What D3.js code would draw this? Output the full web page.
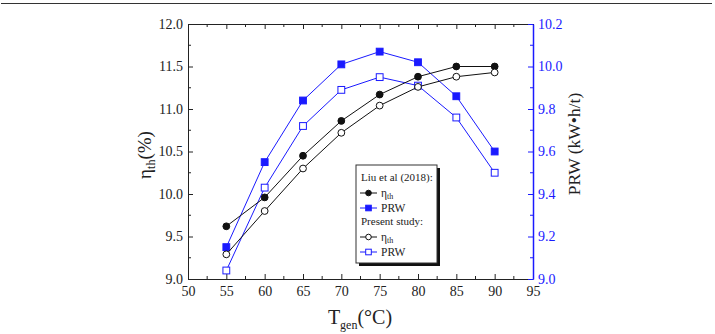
<!DOCTYPE html>
<html>
<head>
<meta charset="utf-8">
<script src="https://cdn.jsdelivr.net/npm/d3@7"></script>
<style>
  body { margin: 0; background: #fff; }
</style>
</head>
<body>
<svg id="chart" width="715" height="334" font-family="'Liberation Serif', 'DejaVu Serif', serif"></svg>
<script>
// generator temperature (degC)
var tGen = [55, 60, 65, 70, 75, 80, 85, 90];

// thermal efficiency (%) - left axis
var etaLiu = [9.62, 9.96, 10.45, 10.86, 11.17, 11.38, 11.50, 11.50];
var etaPresent = [9.29, 9.80, 10.30, 10.72, 11.04, 11.26, 11.38, 11.43];

// power required for water (kW.h/t) - right axis
var prwLiu = [9.15, 9.55, 9.84, 10.01, 10.07, 10.02, 9.86, 9.60];
var prwPresent = [9.04, 9.43, 9.72, 9.89, 9.95, 9.91, 9.76, 9.50];

var xTicks = [50, 55, 60, 65, 70, 75, 80, 85, 90, 95];
var yLeftTicks = [9.0, 9.5, 10.0, 10.5, 11.0, 11.5, 12.0];
var yRightTicks = [9.0, 9.2, 9.4, 9.6, 9.8, 10.0, 10.2];

var serif = "Liberation Serif";
var blue = "#1a1aff";
var ink = "#222";
var svg = d3.select("#chart");

// frame line at the top of the figure
svg.append("line").attr("x1", 1).attr("x2", 712).attr("y1", 3.5).attr("y2", 3.5)
    .attr("stroke", "#333").attr("stroke-width", 1.2);

var pLeft = 188, pRight = 533, pTop = 24, pBottom = 279;

var x = d3.scaleLinear().domain([50, 95]).range([pLeft, pRight]);
var yL = d3.scaleLinear().domain([9, 12]).range([pBottom, pTop]);
var yR = d3.scaleLinear().domain([9, 10.2]).range([pBottom, pTop]);

// midpoints between major ticks -> minor ticks
function minors(ticks) {
    var out = [];
    for (var i = 0; i < ticks.length - 1; i++) out.push((ticks[i] + ticks[i + 1]) / 2);
    return out;
}

function styleAxis(g, color) {
    g.attr("font-family", serif).attr("font-size", 14);
    g.selectAll("text").attr("font-family", serif).attr("font-size", 14).attr("fill", color);
    g.selectAll(".tick line").attr("stroke", color);
    g.select(".domain").attr("stroke", color);
}

// bottom axis
var gx = svg.append("g").attr("transform", "translate(0," + pBottom + ")");
gx.call(d3.axisBottom(x).tickValues(xTicks).tickFormat(d3.format("d")).tickSizeInner(-5).tickSizeOuter(0).tickPadding(7));
styleAxis(gx, ink);
gx.selectAll(".minor").data(minors(xTicks)).enter().append("line")
    .attr("x1", function(d){return x(d);}).attr("x2", function(d){return x(d);})
    .attr("y1", 0).attr("y2", -3).attr("stroke", ink);

// top axis (ticks only)
var gt = svg.append("g").attr("transform", "translate(0," + pTop + ")");
gt.call(d3.axisTop(x).tickValues(xTicks).tickFormat("").tickSizeInner(-5).tickSizeOuter(0));
styleAxis(gt, ink);
gt.selectAll(".minor").data(minors(xTicks)).enter().append("line")
    .attr("x1", function(d){return x(d);}).attr("x2", function(d){return x(d);})
    .attr("y1", 0).attr("y2", 3).attr("stroke", ink);

// left axis
var gl = svg.append("g").attr("transform", "translate(" + pLeft + ",0)");
gl.call(d3.axisLeft(yL).tickValues(yLeftTicks).tickFormat(d3.format(".1f")).tickSizeInner(-5).tickSizeOuter(0).tickPadding(5));
styleAxis(gl, ink);
gl.selectAll(".minor").data(minors(yLeftTicks)).enter().append("line")
    .attr("y1", function(d){return yL(d);}).attr("y2", function(d){return yL(d);})
    .attr("x1", 0).attr("x2", 3).attr("stroke", ink);

// right axis (blue)
var gr = svg.append("g").attr("transform", "translate(" + pRight + ",0)");
gr.call(d3.axisRight(yR).tickValues(yRightTicks).tickFormat(d3.format(".1f")).tickSizeInner(-5).tickSizeOuter(0).tickPadding(5));
styleAxis(gr, blue);
gr.select(".domain").attr("stroke-width", 1.5);
gr.selectAll(".minor").data(minors(yRightTicks)).enter().append("line")
    .attr("y1", function(d){return yR(d);}).attr("y2", function(d){return yR(d);})
    .attr("x1", 0).attr("x2", -3).attr("stroke", blue);

// series
var series = [
    {vals: prwLiu, y: yR, color: blue, shape: "square", filled: true},
    {vals: prwPresent, y: yR, color: blue, shape: "square", filled: false},
    {vals: etaLiu, y: yL, color: "#111", shape: "circle", filled: true},
    {vals: etaPresent, y: yL, color: "#111", shape: "circle", filled: false}
];

function drawMarker(g, shape, filled, color, cx, cy, size) {
    if (shape === "circle") {
        g.append("circle").attr("cx", cx).attr("cy", cy).attr("r", size)
            .attr("fill", filled ? color : "#fff").attr("stroke", color).attr("stroke-width", 1);
    } else {
        g.append("rect").attr("x", cx - size).attr("y", cy - size).attr("width", 2 * size).attr("height", 2 * size)
            .attr("fill", filled ? color : "#fff").attr("stroke", color).attr("stroke-width", 1);
    }
}

series.forEach(function(s) {
    var pts = tGen.map(function(t, i) { return [x(t), s.y(s.vals[i])]; });
    svg.append("path").attr("d", d3.line()(pts)).attr("fill", "none")
        .attr("stroke", s.color).attr("stroke-width", 1);
    var g = svg.append("g");
    pts.forEach(function(p) { drawMarker(g, s.shape, s.filled, s.color, p[0], p[1], 3.4); });
});

// legend
var lg = svg.append("g").attr("font-family", serif);
lg.append("rect").attr("x", 359).attr("y", 168).attr("width", 81).attr("height", 98).attr("fill", "#111");
lg.append("rect").attr("x", 356).attr("y", 165).attr("width", 81).attr("height", 98)
    .attr("fill", "#fff").attr("stroke", "#333").attr("stroke-width", 1);

var legendRows = [
    {type: "title", text: "Liu et al (2018):", y: 181},
    {type: "eta", shape: "circle", filled: true, color: "#111", y: 193},
    {type: "prw", shape: "square", filled: true, color: blue, y: 208},
    {type: "title", text: "Present study:", y: 225},
    {type: "eta", shape: "circle", filled: false, color: "#111", y: 237},
    {type: "prw", shape: "square", filled: false, color: blue, y: 252}
];
legendRows.forEach(function(r) {
    if (r.type === "title") {
        lg.append("text").attr("x", 361).attr("y", r.y).attr("font-size", 11).attr("fill", ink).text(r.text);
        return;
    }
    lg.append("line").attr("x1", 360).attr("x2", 377).attr("y1", r.y).attr("y2", r.y)
        .attr("stroke", r.color).attr("stroke-width", 1);
    drawMarker(lg, r.shape, r.filled, r.color, 368.5, r.y, 2.8);
    var t = lg.append("text").attr("x", 381).attr("y", r.y + 4).attr("font-size", 11.5).attr("fill", ink);
    if (r.type === "eta") {
        t.append("tspan").text("η");
        t.append("tspan").attr("font-size", 8).attr("dy", 2).text("th");
    } else {
        t.text("PRW");
    }
});

// axis titles
var ylab = svg.append("text").attr("transform", "translate(151,155) rotate(-90)")
    .attr("font-family", serif).attr("text-anchor", "middle").attr("font-size", 19).attr("fill", ink);
ylab.append("tspan").text("η");
ylab.append("tspan").attr("font-size", 12).attr("dy", 4).text("th");
ylab.append("tspan").attr("dy", -4).text("(%)");

svg.append("text").attr("transform", "translate(580,144) rotate(-90)")
    .attr("font-family", serif).attr("text-anchor", "middle").attr("font-size", 17.5).attr("fill", ink)
    .text("PRW (kW•h/t)");

var xlab = svg.append("text").attr("x", 360).attr("y", 324)
    .attr("font-family", serif).attr("text-anchor", "middle").attr("font-size", 20).attr("fill", ink);
xlab.append("tspan").text("T");
xlab.append("tspan").attr("font-size", 12).attr("dy", 5).text("gen");
xlab.append("tspan").attr("dy", -5).text("(°C)");
</script>
</body>
</html>
